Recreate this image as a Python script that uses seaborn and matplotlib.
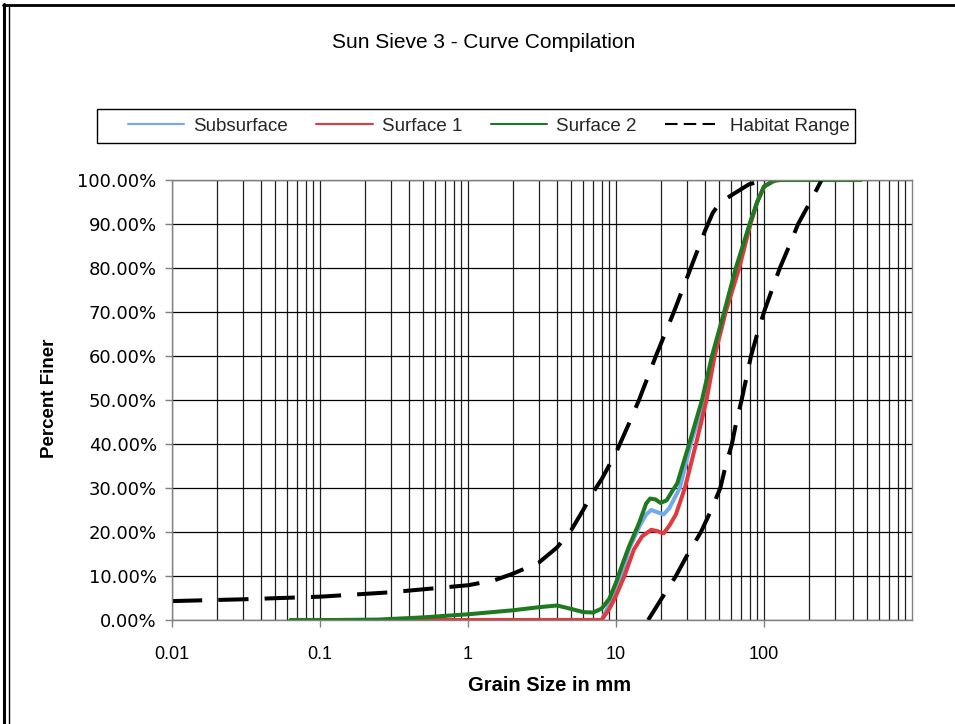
import numpy as np
import pandas as pd
import matplotlib
matplotlib.use("Agg")
import matplotlib.pyplot as plt
import seaborn as sns
from matplotlib.ticker import FuncFormatter, LogLocator, FixedLocator, NullFormatter
from matplotlib.lines import Line2D
from matplotlib.patches import Rectangle

# Grain size distributions (size in mm, cumulative percent finer)
subsurface_size = [0.25, 0.5, 1, 2, 4, 8, 9, 10, 10.9, 12.2, 14.5, 16, 17.3, 19, 21, 23, 27,
                   32, 39.2, 44.9, 54.6, 67, 80, 90, 100, 120, 450]
subsurface_pct = [0, 0, 0, 0, 0, 0, 3.5, 7, 10, 16, 21.5, 24, 25, 24.5, 24, 25.5, 30,
                  40, 50, 60, 70, 80, 90, 95, 98.5, 100, 100]

surface1_size = [0.25, 0.5, 1, 2, 4, 8, 9, 10, 11.4, 13.2, 15, 17.3, 19, 21, 23, 25.4, 29.2,
                 34.7, 40.9, 46.4, 55.1, 68, 81, 90, 100, 120, 450]
surface1_pct = [0, 0, 0, 0, 0, 0, 2.5, 5.5, 10, 16, 19, 20.5, 20.2, 19.7, 21.5, 24, 30,
                40, 50, 60, 70, 80, 90, 95, 98.5, 100, 100]

surface2_size = [0.063, 0.125, 0.25, 0.5, 1, 2, 3, 4, 5, 6, 7, 8, 9, 10, 11, 12.2, 14.3, 16,
                 17, 18.5, 20, 22, 24, 25.9, 31.2, 38.1, 44.5, 53.8, 64.5, 80, 90,
                 100, 115, 130, 450]
surface2_pct = [0, 0, 0.1, 0.6, 1.3, 2.2, 2.9, 3.3, 2.5, 1.8, 1.7, 2.6, 4.8, 8.5, 12.5, 16.6,
                22, 26.5, 27.6, 27.4, 26.6, 27.2, 29.3, 31, 40, 50, 60, 70, 80,
                90, 95, 98.5, 99.8, 100, 100]

habitat_fine_size = [0.01, 0.03, 0.1, 0.3, 1, 1.5, 2, 3, 4, 5, 6, 7, 8, 10, 12, 14.3, 18.6,
                     24.6, 32, 40, 45, 50, 60, 79, 100]
habitat_fine_pct = [4.3, 4.7, 5.3, 6.3, 7.9, 9, 10.5, 13, 16.5, 20.5, 25, 29, 32, 38, 44,
                    50, 60, 70, 80, 88.5, 92.5, 94.7, 96.5, 99, 100]

habitat_coarse_size = [16.5, 20, 25.4, 30, 37.5, 44, 50.7, 55, 60.7, 65, 70.6, 76, 81.7, 90,
                       100, 113, 128, 148, 170, 205, 245]
habitat_coarse_pct = [0, 4.5, 10, 14.5, 20, 25, 30, 35, 40, 45, 50, 55, 60, 65, 70, 75, 80,
                      85, 90, 95, 100]

x_ticks = [0.01, 0.1, 1, 10, 100]
x_tick_labels = ["0.01", "0.1", "1", "10", "100"]
y_ticks = list(range(0, 101, 10))

series_names = ["Subsurface", "Surface 1", "Surface 2"]
colors = {"Subsurface": "#72aaee", "Surface 1": "#e0393e", "Surface 2": "#1f7a1f",
          "Habitat Range": "black"}

frames = [
    pd.DataFrame({"size": subsurface_size, "pct": subsurface_pct, "series": "Subsurface", "seg": 0}),
    pd.DataFrame({"size": surface1_size, "pct": surface1_pct, "series": "Surface 1", "seg": 1}),
    pd.DataFrame({"size": surface2_size, "pct": surface2_pct, "series": "Surface 2", "seg": 2}),
]
curves = pd.concat(frames, ignore_index=True)
habitat = pd.concat([
    pd.DataFrame({"size": habitat_fine_size, "pct": habitat_fine_pct, "series": "Habitat Range", "seg": 3}),
    pd.DataFrame({"size": habitat_coarse_size, "pct": habitat_coarse_pct, "series": "Habitat Range", "seg": 4}),
], ignore_index=True)

sns.set_theme(style="white")
plt.rcParams["font.family"] = ["Liberation Sans", "DejaVu Sans"]

fig = plt.figure(figsize=(9.55, 7.24), dpi=100)
ax = fig.add_axes([172 / 955, 1 - 620 / 724, 740 / 955, 440 / 724])

ax.set_xscale("log")
ax.set_xlim(0.01, 1000)
ax.set_ylim(0, 100)
ax.xaxis.set_minor_locator(LogLocator(base=10, subs=np.arange(2, 10)))
ax.xaxis.set_minor_formatter(NullFormatter())
ax.xaxis.set_major_locator(FixedLocator(x_ticks))
ax.set_xticklabels(x_tick_labels)
ax.set_yticks(y_ticks)
ax.grid(True, which="both", axis="x", color="#202020", lw=0.9)
ax.grid(True, which="major", axis="y", color="black", lw=0.9)
ax.set_axisbelow(True)

lw = 2.9
for name in series_names:
    sns.lineplot(data=curves[curves["series"] == name], x="size", y="pct", ax=ax,
                 color=colors[name], lw=lw, estimator=None, sort=False, legend=False)
for seg in (3, 4):
    sns.lineplot(data=habitat[habitat["seg"] == seg], x="size", y="pct", ax=ax,
                 color="black", lw=lw, estimator=None, sort=False, legend=False,
                 dashes=False, linestyle=(0, (7.5, 4)))

ax.yaxis.set_major_formatter(FuncFormatter(lambda v, p: f"{v:.2f}%"))
for lab in ax.get_yticklabels():
    lab.set_fontfamily("DejaVu Sans")
    lab.set_fontsize(13)
ax.tick_params(axis="y", which="major", direction="out", length=5, width=1, color="#808080",
               pad=6, left=True, labelcolor="black")
ax.tick_params(axis="x", which="major", direction="out", length=5, width=1, color="#808080",
               pad=14, bottom=True, labelsize=13, labelcolor="black")
ax.tick_params(axis="x", which="minor", length=0)
for s in ax.spines.values():
    s.set_color("#808080")
    s.set_linewidth(1)

ax.set_xlabel("Grain Size in mm", fontsize=14.5, fontweight="bold", color="black")
ax.set_ylabel("Percent Finer", fontsize=13.5, fontweight="bold", color="black")
ax.xaxis.set_label_coords((550 - 172) / 740, -56 / 440)
ax.yaxis.set_label_coords((58 - 172) / 740, (620 - 398) / 440)

fig.text(484 / 955, 1 - 43 / 724, "Sun Sieve 3 - Curve Compilation", ha="center",
         va="center", fontsize=15, color="black")

# legend box drawn separately so its padding can match the layout
fig.add_artist(Rectangle((97 / 955, 1 - 143 / 724), 758 / 955, 34 / 724, fill=False,
                         edgecolor="black", lw=1, transform=fig.transFigure))
handles = [Line2D([], [], color=colors[n], lw=1.5) for n in series_names]
handles.append(Line2D([], [], color="black", lw=1.5, linestyle=(0, (6, 3))))
leg = fig.legend(handles, series_names + ["Habitat Range"], ncol=4, loc="center",
                 bbox_to_anchor=(489 / 955, 1 - 126 / 724), frameon=False,
                 fontsize=13.5, handlelength=3.0, handletextpad=0.5, columnspacing=1.5,
                 borderpad=0, borderaxespad=0)

# outer frame: top rule and doubled left rule
fig.add_artist(Line2D([3 / 955, 1], [1 - 5 / 724, 1 - 5 / 724], color="black", lw=2,
                      transform=fig.transFigure))
fig.add_artist(Line2D([4 / 955, 4 / 955], [0, 1 - 4 / 724], color="black", lw=2.2,
                      transform=fig.transFigure))
fig.add_artist(Line2D([8.5 / 955, 8.5 / 955], [0, 1 - 5 / 724], color="black", lw=1,
                      transform=fig.transFigure))

fig.savefig("out.png", dpi=100)
